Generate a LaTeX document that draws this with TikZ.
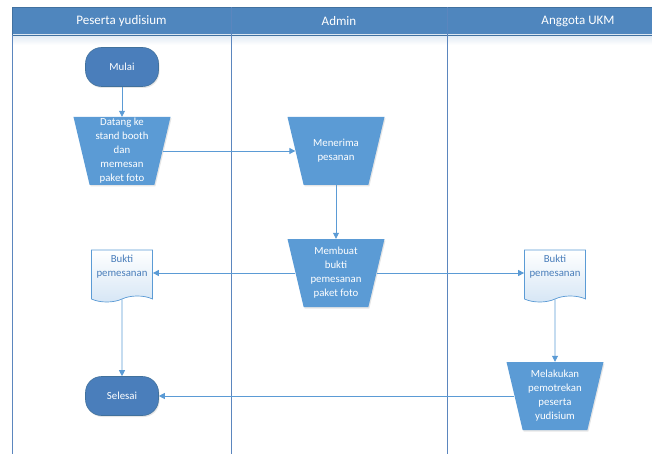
\documentclass[tikz,border=0pt]{standalone}
\usepackage{fontspec}
\setmainfont{Carlito}
\usetikzlibrary{shapes.geometric,shapes.symbols,arrows.meta,shadows}
\definecolor{hdr}{RGB}{79,134,190}
\definecolor{hdrline}{RGB}{65,113,160}
\definecolor{lane}{RGB}{91,134,190}
\definecolor{term}{RGB}{74,126,187}
\definecolor{termline}{RGB}{65,113,156}
\definecolor{trapfill}{RGB}{91,155,213}
\definecolor{conn}{RGB}{91,155,213}
\definecolor{doctext}{RGB}{74,126,187}
\definecolor{docbot}{RGB}{214,230,245}
\begin{document}
\begin{tikzpicture}[x=1pt,y=-1pt,
 hdrtext/.style={text=white, font=\fontsize{13}{15}\selectfont},
 terminal/.style={rectangle, rounded corners=16pt, minimum width=73pt, minimum height=39pt,
   fill=term, draw=termline, line width=0.6pt, text=white, font=\fontsize{10.8}{13}\selectfont,
   drop shadow={opacity=0.2,shadow xshift=1pt,shadow yshift=-1.5pt}},
 proc/.style={trapezium, shape border rotate=180, trapezium left angle=76, trapezium right angle=76,
   trapezium stretches=true, minimum width=97pt, minimum height=68pt, inner sep=3pt,
   fill=trapfill, draw=none, drop shadow={opacity=0.2,shadow xshift=1pt,shadow yshift=-1.5pt}},
 proclabel/.style={text=white, align=center, font=\fontsize{10.8}{14}\selectfont, inner sep=0pt},
 doc/.style={tape, tape bend top=none, tape bend bottom=in and out, tape bend height=6pt,
   minimum width=61pt, minimum height=52pt, inner sep=3pt, draw=conn, line width=0.7pt,
   top color=white, bottom color=docbot},
 doclabel/.style={text=doctext, align=center, font=\fontsize{10.8}{14}\selectfont, inner sep=0pt},
 flow/.style={draw=conn, line width=0.8pt, -{Triangle[length=6pt,width=6pt]}},
]
\useasboundingbox (0,0) rectangle (652,454);
% header and lanes
\fill[hdr] (12.5,7.5) rectangle (652,35);
\shade[top color=hdr!18, bottom color=white] (13,35) rectangle (652,45);
\draw[hdrline, line width=0.8pt] (12.5,35) -- (12.5,7.5) -- (652,7.5);
\draw[hdrline, line width=0.8pt] (12.5,35) -- (652,35);
\draw[lane, line width=0.8pt] (12.5,35) -- (12.5,454);
\draw[lane, line width=0.8pt] (231,7.5) -- (231,454);
\draw[lane, line width=0.8pt] (447,7.5) -- (447,454);
\node[hdrtext] (h1) at (121.5,21) {Peserta yudisium};
\node[hdrtext] (h2) at (339,21) {Admin};
\node[hdrtext] (h3) at (578,21) {Anggota UKM};
% nodes
\node[terminal] (mulai) at (122,67) {Mulai};
\node[proc] (datang) at (122,151) {};
\node[proclabel] (datangt) at (122,151) {Datang ke\\stand booth\\dan\\memesan\\paket foto};
\node[proc] (menerima) at (336,151) {};
\node[proclabel] (menerimat) at (336,151) {Menerima\\pesanan};
\node[proc] (membuat) at (336,273) {};
\node[proclabel] (membuatt) at (336,273) {Membuat\\bukti\\pemesanan\\paket foto};
\node[doc] (bukti1) at (122,273) {};
\node[doclabel] (bukti1t) at (122,267) {Bukti\\pemesanan};
\node[doc] (bukti2) at (555,273) {};
\node[doclabel] (bukti2t) at (555,267) {Bukti\\pemesanan};
\node[proc] (melakukan) at (555,396) {};
\node[proclabel] (melakukant) at (555,396) {Melakukan\\pemotrekan\\peserta\\yudisium};
\node[terminal] (selesai) at (122,396) {Selesai};
% connectors
\draw[flow] (mulai) -- (datang);
\draw[flow] (datang) -- (menerima);
\draw[flow] (menerima) -- (membuat);
\draw[flow] (membuat) -- (bukti1);
\draw[flow] (membuat) -- (bukti2);
\draw[flow] (bukti1) -- (selesai);
\draw[flow] (bukti2) -- (melakukan);
\draw[flow] (melakukan) -- (selesai);
\end{tikzpicture}
\end{document}
